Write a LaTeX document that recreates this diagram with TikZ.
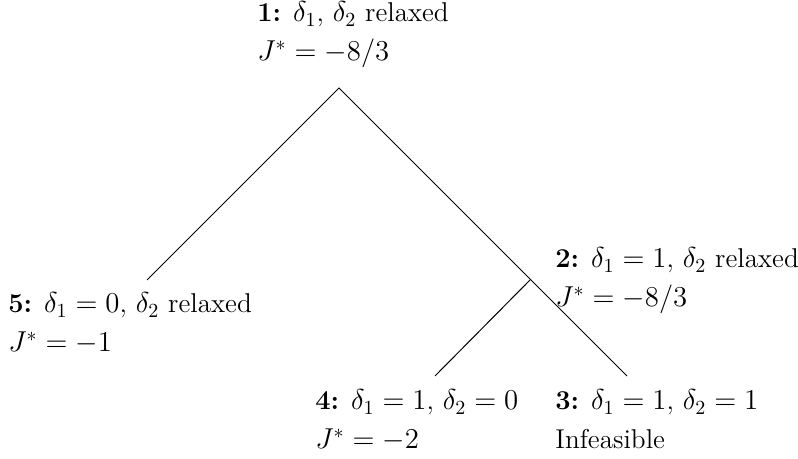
\documentclass[tikz,border=0pt]{standalone}
\begin{document}
\begin{tikzpicture}[x=0.5pt,y=-0.5pt,
  lbl/.style={anchor=base west,inner sep=0pt,font=\fontsize{13.6}{19.5}\selectfont},
  edge/.style={draw=black,line width=0.5pt}]
\useasboundingbox (0,0) rectangle (798,459);
\newcommand{\twoline}[2]{\begin{tabular}[t]{@{}l@{}}#1\\#2\end{tabular}}
\node[lbl] (n1) at (257,22) {\twoline{\textbf{1:} $\delta_1$, $\delta_2$ relaxed}{$J^*=-8/3$}};
\node[lbl] (n2) at (555,268) {\twoline{\textbf{2:} $\delta_1=1$, $\delta_2$ relaxed}{$J^*=-8/3$}};
\node[lbl] (n5) at (8,313) {\twoline{\textbf{5:} $\delta_1=0$, $\delta_2$ relaxed}{$J^*=-1$}};
\node[lbl] (n4) at (315,410) {\twoline{\textbf{4:} $\delta_1=1$, $\delta_2=0$}{$J^*=-2$}};
\node[lbl] (n3) at (555,410) {\twoline{\textbf{3:} $\delta_1=1$, $\delta_2=1$}{Infeasible}};
\coordinate (a1) at (339,88);
\coordinate (e5) at (147,280);
\coordinate (a2) at (530,280);
\coordinate (e4) at (435,376);
\coordinate (e3) at (627,376);
\draw[edge] (e5) -- (a1) -- (e3);
\draw[edge] (a2) -- (e4);
\end{tikzpicture}
\end{document}
